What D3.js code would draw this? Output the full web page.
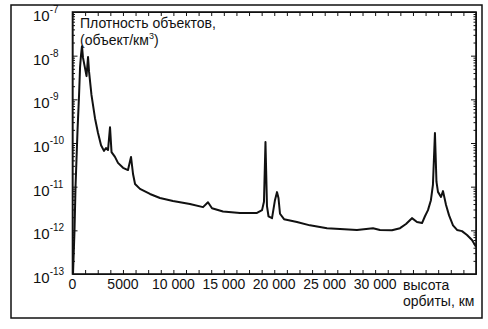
<!DOCTYPE html>
<html>
<head>
<meta charset="utf-8">
<script src="https://cdn.jsdelivr.net/npm/d3@7"></script>
<style>
  body { margin: 0; background: #fff; }
  svg { display: block; font-family: "Liberation Sans", Arial, sans-serif; }
  .axis path, .axis line { stroke: #111; }
</style>
</head>
<body>
<div id="chart"></div>
<script>
// altitude of orbit, km
const altitude = [50, 200, 300, 500, 650, 750, 840, 940, 1040, 1240, 1390, 1540, 1640, 1880,
  2230, 2530, 2830, 3120, 3320, 3520, 3720, 3870, 4210, 4510, 5010, 5500, 5800, 6000, 6200,
  6690, 7680, 8670, 9960, 11640, 12940, 13430, 13830, 14920, 16600, 18290, 18790, 18980,
  19130, 19280, 19430, 19780, 20070, 20270, 20420, 20570, 20970, 22250, 23540, 25230, 26520,
  28200, 29790, 30480, 31670, 32470, 33060, 33650, 34150, 34650, 34940, 35240, 35530, 35730,
  35930, 36080, 36230, 36530, 36730, 37030, 37330, 37720, 38120, 38610, 39110, 39600, 40000];
// object density, objects per km^3
const density = [1e-13, 1e-12, 1e-11, 2e-10, 1.26e-9, 5.5e-9, 1.0e-8, 1.65e-8, 9e-9, 5.2e-9, 3.4e-9, 9.3e-9, 4.3e-9, 1.26e-9,
  3.7e-10, 1.7e-10, 8.9e-11, 6.6e-11, 7.7e-11, 6.9e-11, 2.3e-10, 6.2e-11, 4.8e-11, 3.5e-11, 2.7e-11, 2.4e-11, 4.8e-11, 1.95e-11, 1.15e-11,
  8.9e-12, 6.8e-12, 5.5e-12, 4.7e-12, 4.0e-12, 3.4e-12, 4.4e-12, 3.2e-12, 2.7e-12, 2.5e-12, 2.5e-12, 2.9e-12, 4.5e-12,
  1.05e-10, 3.6e-12, 2.1e-12, 1.9e-12, 4.9e-12, 7.5e-12, 5.5e-12, 2.4e-12, 1.8e-12, 1.55e-12, 1.3e-12, 1.12e-12, 1.07e-12,
  1.02e-12, 1.12e-12, 1.02e-12, 1.0e-12, 1.12e-12, 1.4e-12, 1.9e-12, 1.55e-12, 1.47e-12, 2.1e-12, 2.9e-12, 4.9e-12, 1.1e-11,
  1.7e-10, 1.3e-11, 7.6e-12, 5.8e-12, 7.9e-12, 3.8e-12, 2.2e-12, 1.3e-12, 1.02e-12, 9.6e-13, 7.8e-13, 6.0e-13, 4.2e-13];

const xTickValues = [0, 5000, 10000, 15000, 20000, 25000, 30000];
const xTickLabels = ["0", "5000", "10 000", "15 000", "20 000", "25 000", "30 000"];
const yExponents = [-13, -12, -11, -10, -9, -8, -7];

const width = 488, height = 329;
const plotLeft = 72.5, plotRight = 476, plotTop = 12, plotBottom = 274;

const svg = d3.select("#chart").append("svg")
  .attr("width", width)
  .attr("height", height);

// outer frame
svg.append("rect")
  .attr("x", 11).attr("y", 5)
  .attr("width", 471).attr("height", 313)
  .attr("fill", "none")
  .attr("stroke", "#111")
  .attr("stroke-width", 1.5);

const x = d3.scaleLinear().domain([0, 40000]).range([plotLeft, plotRight]);
const y = d3.scaleLog().domain([1e-13, 1e-7]).range([plotBottom, plotTop]);

const xTicksAll = d3.range(0, 40001, 1250);
const majors = yExponents.map(e => Math.pow(10, e));
const minors = [];
yExponents.slice(0, -1).forEach(e => {
  for (let m = 2; m <= 9; m++) minors.push(m * Math.pow(10, e));
});

// bottom and top ticks (pointing inward)
svg.append("g").attr("class", "axis")
  .attr("transform", `translate(0,${plotBottom})`)
  .call(d3.axisBottom(x).tickValues(xTicksAll).tickFormat("").tickSize(-4).tickSizeOuter(0));
svg.append("g").attr("class", "axis")
  .attr("transform", `translate(0,${plotTop})`)
  .call(d3.axisTop(x).tickValues(xTicksAll).tickFormat("").tickSize(-4).tickSizeOuter(0));

// left and right ticks, major and minor
[[d3.axisLeft, plotLeft], [d3.axisRight, plotRight]].forEach(([ax, pos]) => {
  svg.append("g").attr("class", "axis")
    .attr("transform", `translate(${pos},0)`)
    .call(ax(y).tickValues(majors).tickFormat("").tickSize(-5).tickSizeOuter(0));
  svg.append("g").attr("class", "axis")
    .attr("transform", `translate(${pos},0)`)
    .call(ax(y).tickValues(minors).tickFormat("").tickSize(-2.5).tickSizeOuter(0))
    .select(".domain").remove();
});

// plot border
svg.append("rect")
  .attr("x", plotLeft).attr("y", plotTop)
  .attr("width", plotRight - plotLeft).attr("height", plotBottom - plotTop)
  .attr("fill", "none")
  .attr("stroke", "#111")
  .attr("stroke-width", 1.6);

// x tick labels
svg.selectAll(".xlab")
  .data(xTickValues)
  .enter()
  .append("text")
  .attr("class", "xlab")
  .attr("x", d => x(d))
  .attr("y", plotBottom + 15)
  .attr("text-anchor", "middle")
  .style("font-size", "14px")
  .style("fill", "#111")
  .text((d, i) => xTickLabels[i]);

// y tick labels: 10 with superscript exponent
const ylab = svg.selectAll(".ylab")
  .data(yExponents)
  .enter()
  .append("text")
  .attr("class", "ylab")
  .attr("x", 33)
  .attr("y", d => y(Math.pow(10, d)) + 9)
  .style("font-size", "15px")
  .style("fill", "#111");
ylab.append("tspan").text("10");
ylab.append("tspan")
  .attr("dy", -8)
  .style("font-size", "10px")
  .text(d => "-" + Math.abs(d));

// density curve
const points = altitude.map((a, i) => [a, density[i]]);
const line = d3.line()
  .x(d => x(d[0]))
  .y(d => y(d[1]));

svg.append("path")
  .datum(points)
  .attr("d", line)
  .attr("fill", "none")
  .attr("stroke", "#111")
  .attr("stroke-width", 2)
  .attr("stroke-linejoin", "round");

// axis titles
svg.append("text")
  .attr("x", 80)
  .attr("y", 28)
  .style("font-size", "14px")
  .style("fill", "#111")
  .text("Плотность объектов,");
const t2 = svg.append("text")
  .attr("x", 80)
  .attr("y", 45)
  .style("font-size", "14px")
  .style("fill", "#111");
t2.append("tspan").text("(объект/км");
t2.append("tspan").attr("dy", -6).style("font-size", "9px").text("3");
t2.append("tspan").attr("dy", 6).text(")");

svg.append("text")
  .attr("x", 403).attr("y", 290)
  .style("font-size", "14px")
  .style("fill", "#111")
  .text("высота");
svg.append("text")
  .attr("x", 403).attr("y", 306)
  .style("font-size", "14px")
  .style("fill", "#111")
  .text("орбиты, км");
</script>
</body>
</html>
